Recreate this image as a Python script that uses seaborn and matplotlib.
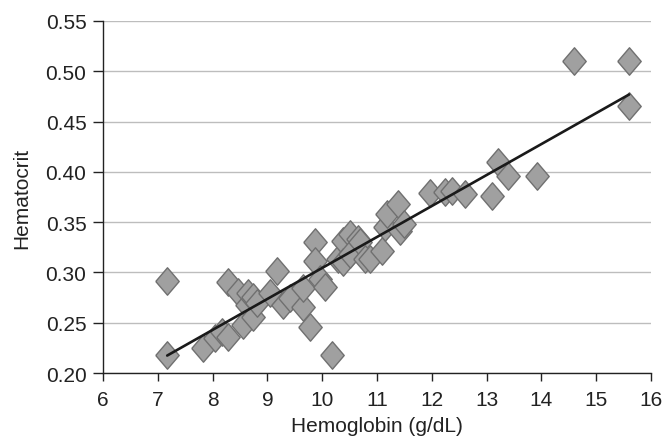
import numpy as np
import pandas as pd
import matplotlib
matplotlib.use("Agg")
import matplotlib.pyplot as plt
import seaborn as sns

hemoglobin = [7.17, 7.17, 7.82, 8.04, 8.17, 8.28, 8.28, 8.46, 8.56, 8.62, 8.65, 8.74, 8.74, 8.80,
              9.05, 9.18, 9.28, 9.41, 9.65, 9.65, 9.78, 9.87, 9.87, 9.96, 10.05, 10.18,
              10.29, 10.38, 10.38, 10.50, 10.50, 10.65, 10.69, 10.78, 10.87, 11.09, 11.15,
              11.18, 11.38, 11.42, 11.50, 11.97, 12.24, 12.37, 12.60, 13.10, 13.21, 13.39,
              13.92, 14.60, 15.60, 15.60]
hematocrit = [0.291, 0.218, 0.225, 0.235, 0.241, 0.236, 0.290, 0.281, 0.248, 0.268, 0.280, 0.276, 0.256, 0.270,
              0.280, 0.301, 0.268, 0.275, 0.266, 0.285, 0.246, 0.330, 0.311, 0.293, 0.286, 0.218,
              0.313, 0.331, 0.310, 0.338, 0.318, 0.333, 0.330, 0.313, 0.313, 0.321, 0.345,
              0.358, 0.368, 0.341, 0.348, 0.379, 0.380, 0.381, 0.378, 0.376, 0.410, 0.396,
              0.396, 0.510, 0.510, 0.465]

x_ticks = [6, 7, 8, 9, 10, 11, 12, 13, 14, 15, 16]
y_ticks = [0.20, 0.25, 0.30, 0.35, 0.40, 0.45, 0.50, 0.55]

df = pd.DataFrame({"Hemoglobin (g/dL)": hemoglobin, "Hematocrit": hematocrit})

sns.set_style("white")
plt.rcParams['font.family'] = ['Liberation Sans', 'DejaVu Sans']

fig = plt.figure(figsize=(6.65, 4.39), dpi=100)
ax = fig.add_axes([0.155, 0.148, 0.824, 0.802])

ax.set_axisbelow(True)
ax.yaxis.grid(True, color="#bdbdbd", linewidth=1.0)
ax.xaxis.grid(False)

diamond = [(-1.0, 0.0), (0.0, 1.17), (1.0, 0.0), (0.0, -1.17), (-1.0, 0.0)]

sns.regplot(data=df, x="Hemoglobin (g/dL)", y="Hematocrit", ax=ax, ci=None,
            marker=diamond,
            scatter_kws=dict(s=390, color="#a0a0a0", edgecolors="#707070", linewidths=1.0, alpha=1.0, zorder=3),
            line_kws=dict(color="#1a1a1a", linewidth=1.9, zorder=4))

ax.set_xlim(6, 16)
ax.set_ylim(0.20, 0.55)
ax.set_xticks(x_ticks)
ax.set_xticklabels([str(t) for t in x_ticks])
ax.set_yticks(y_ticks)
ax.set_yticklabels([f"{t:.2f}" for t in y_ticks])

for side in ["top", "right"]:
    ax.spines[side].set_visible(False)
for side in ["left", "bottom"]:
    ax.spines[side].set_color("#222222")
    ax.spines[side].set_linewidth(1.0)

ax.tick_params(axis="both", which="major", direction="out", width=1.0,
               color="#222222", labelsize=15, labelcolor="#222222", bottom=True, left=True)
ax.tick_params(axis="x", length=6, pad=6)
ax.tick_params(axis="y", length=7, pad=5)
ax.set_xlabel("Hemoglobin (g/dL)", fontsize=15, color="#222222", labelpad=5)
ax.set_ylabel("Hematocrit", fontsize=15, color="#222222", labelpad=10)

fig.savefig("out.png", dpi=100)
